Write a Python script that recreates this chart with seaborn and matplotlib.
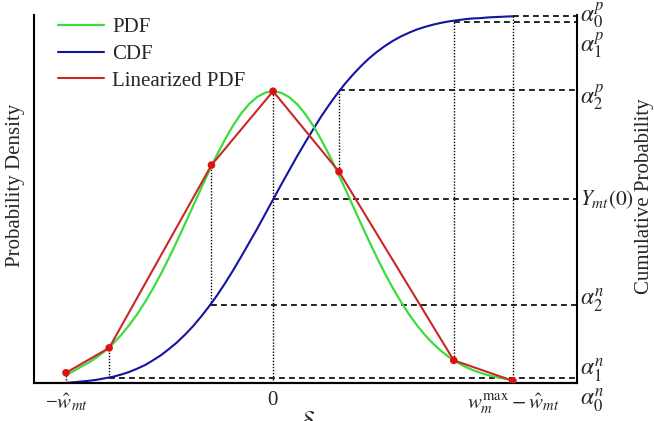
import numpy as np
import pandas as pd
import seaborn as sns
import matplotlib.pyplot as plt
import matplotlib.transforms as mtransforms

# -------- data --------
# delta grid (sigma units, 0 = forecast point)
delta = [-2.6, -2.5, -2.4, -2.3, -2.2, -2.1, -2.0, -1.9, -1.8, -1.7, -1.6, -1.5, -1.4,
         -1.3, -1.2, -1.1, -1.0, -0.9, -0.8, -0.7, -0.6, -0.5, -0.4, -0.3, -0.2, -0.1,
         0.0, 0.1, 0.2, 0.3, 0.4, 0.5, 0.6, 0.7, 0.8, 0.9, 1.0, 1.1, 1.2, 1.3, 1.4,
         1.5, 1.6, 1.7, 1.8, 1.9, 2.0, 2.1, 2.2, 2.3, 2.4, 2.5, 2.6, 2.7, 2.8, 2.9, 3.0]
pdf = [0.0105, 0.0160, 0.0224, 0.0283, 0.0355, 0.0440, 0.0540, 0.0656, 0.0790, 0.0940,
       0.1109, 0.1295, 0.1497, 0.1714, 0.1942, 0.2179, 0.2420, 0.2661, 0.2897, 0.3123,
       0.3332, 0.3521, 0.3683, 0.3814, 0.3910, 0.3970, 0.3989, 0.3970, 0.3910, 0.3814,
       0.3683, 0.3521, 0.3332, 0.3123, 0.2897, 0.2661, 0.2420, 0.2179, 0.1942, 0.1714,
       0.1497, 0.1295, 0.1109, 0.0940, 0.0790, 0.0656, 0.0540, 0.0440, 0.0355, 0.0283,
       0.0224, 0.0175, 0.0136, 0.0104, 0.0079, 0.0058, 0.0035]
cdf = [0.000, 0.002, 0.004, 0.006, 0.009, 0.013, 0.017, 0.023, 0.030, 0.039, 0.049, 0.062,
       0.076, 0.093, 0.111, 0.132, 0.155, 0.181, 0.209, 0.239, 0.272, 0.307, 0.344, 0.382,
       0.420, 0.460, 0.500, 0.540, 0.579, 0.618, 0.655, 0.691, 0.726, 0.758, 0.788, 0.816,
       0.841, 0.864, 0.885, 0.903, 0.919, 0.933, 0.945, 0.955, 0.964, 0.971, 0.977, 0.982,
       0.986, 0.989, 0.992, 0.994, 0.995, 0.997, 0.998, 0.999, 1.000]

# breakpoints of the linearized pdf
bp_delta = [-2.59, -2.05, -0.77, 0.0, 0.825, 2.26, 3.0]
bp_pdf = [0.014, 0.048, 0.298, 0.399, 0.289, 0.031, 0.003]
bp_cdf = [0.0, 0.0144, 0.214, 0.501, 0.798, 0.984, 1.0]

right_labels = [r'$\alpha_0^n$', r'$\alpha_1^n$', r'$\alpha_2^n$', r'$Y_{mt}(0)$',
                r'$\alpha_2^p$', r'$\alpha_1^p$', r'$\alpha_0^p$']
right_label_y = [-0.046, 0.035, 0.226, 0.501, 0.779, 0.921, 1.003]
right_label_size = [17, 17, 17, 15.5, 17, 17, 17]

xtick_pos = [-2.59, 0.0, 3.0]
xtick_labels = [r'$\mathregular{-}\hat{w}_{mt}$', r'$\mathregular{0}$',
                r'$w_m^{\max}-\hat{w}_{mt}$']

curves = pd.DataFrame({'delta': delta, 'pdf': pdf, 'cdf': cdf})
bps = pd.DataFrame({'delta': bp_delta, 'pdf': bp_pdf, 'cdf': bp_cdf})

# -------- style --------
sns.set_style('white')
plt.rcParams['font.family'] = ['Liberation Serif', 'DejaVu Serif']
plt.rcParams['mathtext.fontset'] = 'stix'

GREEN = '#3cdc3c'
BLUE = '#1414a0'
RED = '#c82828'

fig = plt.figure(figsize=(6.54, 4.21), dpi=100)
ax = fig.add_axes([0.052, 0.0903, 0.830, 0.8737])
ax2 = ax.twinx()

pdf_top = 0.503
cdf_top = 1.003
scale = cdf_top / pdf_top

ax.set_xlim(-2.99, 3.8)
ax.set_ylim(0, pdf_top)
ax2.set_ylim(0, cdf_top)

# -------- guide lines --------
x_right = ax.get_xlim()[1]
for d, p, c in zip(bp_delta, bp_pdf, bp_cdf):
    lo = 0.0 if d == 0.0 else c
    ax2.plot([d, d], [lo, p * scale], color='black', ls=(0, (1, 1.2)), lw=1.0, zorder=1)
    ax2.plot([d, x_right], [c, c], color='black', ls=(0, (3.5, 2.5)), lw=1.2, zorder=1)

# -------- curves --------
sns.lineplot(data=curves, x='delta', y='cdf', ax=ax2, color=BLUE, lw=1.5, legend=False, zorder=3)
sns.lineplot(data=curves, x='delta', y='pdf', ax=ax, color=GREEN, lw=1.6, legend=False, zorder=3)
sns.lineplot(data=bps, x='delta', y='pdf', ax=ax, color=RED, lw=1.5, legend=False, zorder=4)
sns.scatterplot(data=bps, x='delta', y='pdf', ax=ax, color='#e01010', s=30, edgecolor='none',
                zorder=5, legend=False)
ax.set_zorder(ax2.get_zorder() + 1)
ax.patch.set_visible(False)

# -------- axes decoration --------
for a in (ax, ax2):
    a.spines['top'].set_visible(False)
    for s in a.spines.values():
        s.set_color('black')
        s.set_linewidth(1.5)
    a.set_xlabel('')
    a.set_ylabel('')
    a.set_yticks([])
ax2.spines['left'].set_visible(False)
ax.spines['right'].set_visible(False)

ax.set_xticks(xtick_pos)
ax.set_xticklabels(xtick_labels, fontsize=15)
ax.tick_params(axis='x', length=0, pad=6)

trans = mtransforms.blended_transform_factory(ax2.transAxes, ax2.transData)
for lab, y, fs in zip(right_labels, right_label_y, right_label_size):
    ax2.text(1.006, y, lab, transform=trans, fontsize=fs, va='center', ha='left',
             clip_on=False)

fig.text(0.023, 0.56, 'Probability Density', rotation=90, fontsize=15,
         va='center', ha='center')
fig.text(0.986, 0.535, 'Cumulative Probability', rotation=90, fontsize=15,
         va='center', ha='center')
fig.text(0.469, 0.026, r'$\delta$', fontsize=22, va='top', ha='center')

handles = [plt.Line2D([], [], color=GREEN, lw=1.6),
           plt.Line2D([], [], color=BLUE, lw=1.5),
           plt.Line2D([], [], color=RED, lw=1.5)]
ax.legend(handles, ['PDF', 'CDF', 'Linearized PDF'], loc='upper left',
          bbox_to_anchor=(0.01, 1.045), frameon=False, fontsize=15,
          handlelength=2.2, handletextpad=0.4, labelspacing=0.35)

fig.savefig('out.png', dpi=100)
